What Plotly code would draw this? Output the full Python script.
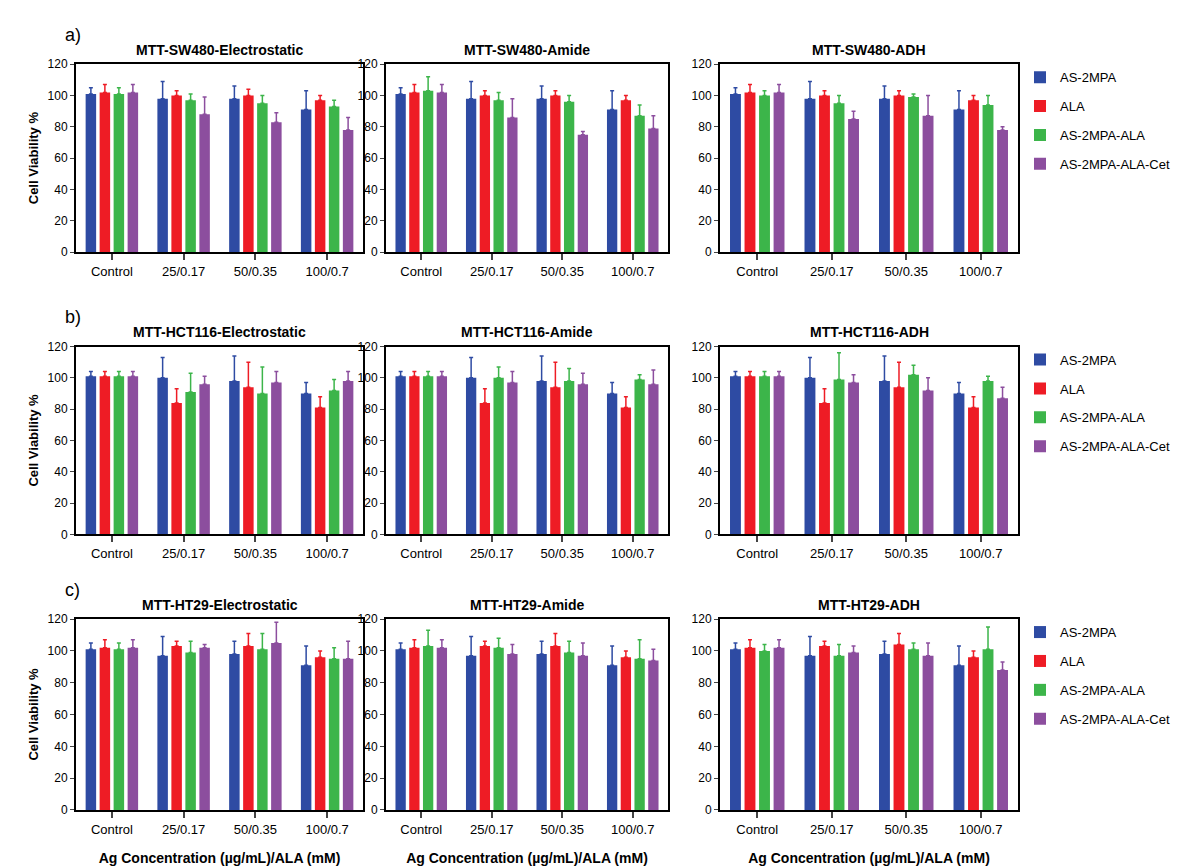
import plotly.graph_objects as go

groups = ["Control", "25/0.17", "50/0.35", "100/0.7"]
series = ["AS-2MPA", "ALA", "AS-2MPA-ALA", "AS-2MPA-ALA-Cet"]
colors = ["#2E4BA3", "#EE1C25", "#3CB54A", "#8C4E9E"]

titles = [
    ["MTT-SW480-Electrostatic", "MTT-SW480-Amide", "MTT-SW480-ADH"],
    ["MTT-HCT116-Electrostatic", "MTT-HCT116-Amide", "MTT-HCT116-ADH"],
    ["MTT-HT29-Electrostatic", "MTT-HT29-Amide", "MTT-HT29-ADH"],
]

# mean values per panel: [AS-2MPA, ALA, AS-2MPA-ALA, Cet], each over groups
means = [
    [
        [[101, 98, 98, 91], [102, 100, 100, 97], [101, 97, 95, 93], [102, 88, 83, 78]],
        [[101, 98, 98, 91], [102, 100, 100, 97], [103, 97, 96, 87], [102, 86, 75, 79]],
        [[101, 98, 98, 91], [102, 100, 100, 97], [100, 95, 99, 94], [102, 85, 87, 78]],
    ],
    [
        [[101, 100, 98, 90], [101, 84, 94, 81], [101, 91, 90, 92], [101, 96, 97, 98]],
        [[101, 100, 98, 90], [101, 84, 94, 81], [101, 100, 98, 99], [101, 97, 96, 96]],
        [[101, 100, 98, 90], [101, 84, 94, 81], [101, 99, 102, 98], [101, 97, 92, 87]],
    ],
    [
        [[101, 97, 98, 91], [102, 103, 103, 96], [101, 99, 101, 95], [102, 102, 105, 95]],
        [[101, 97, 98, 91], [102, 103, 103, 96], [103, 102, 99, 95], [102, 98, 97, 94]],
        [[101, 97, 98, 91], [102, 103, 104, 96], [100, 97, 101, 101], [102, 99, 97, 88]],
    ],
]
# top of error bar per panel
tops = [
    [
        [[105, 109, 106, 103], [107, 103, 104, 100], [105, 101, 100, 97], [107, 99, 89, 86]],
        [[105, 109, 106, 103], [107, 103, 103, 100], [112, 102, 100, 94], [107, 98, 77, 87]],
        [[105, 109, 106, 103], [107, 103, 103, 100], [103, 100, 101, 100], [107, 90, 100, 80]],
    ],
    [
        [[104, 113, 114, 97], [104, 93, 110, 88], [104, 103, 107, 99], [104, 101, 104, 104]],
        [[104, 113, 114, 97], [104, 93, 110, 88], [104, 107, 106, 102], [104, 104, 103, 105]],
        [[104, 113, 114, 97], [104, 93, 110, 88], [104, 116, 108, 101], [104, 102, 100, 94]],
    ],
    [
        [[105, 109, 106, 103], [107, 106, 111, 100], [105, 106, 111, 102], [107, 104, 118, 106]],
        [[105, 109, 106, 103], [107, 106, 111, 100], [113, 108, 106, 107], [107, 104, 105, 101]],
        [[105, 109, 106, 103], [107, 106, 111, 100], [104, 104, 105, 115], [107, 103, 105, 93]],
    ],
]

W, H = 1186, 866
col_px = [(68, 355), (378, 660), (712, 1010)]
row_px = [(50, 241), (337, 528), (614, 808)]

fig = go.Figure()
ax = 0
for r in range(3):
    leg = "legend" if r == 0 else f"legend{r+1}"
    for c in range(3):
        ax += 1
        xa = "x" if ax == 1 else f"x{ax}"
        ya = "y" if ax == 1 else f"y{ax}"
        for s in range(4):
            m = means[r][c][s]
            e = [t - v for t, v in zip(tops[r][c][s], m)]
            fig.add_trace(go.Bar(
                x=groups, y=m, name=series[s], marker_color=colors[s],
                marker_line_width=0, legendgroup=f"{r}-{s}",
                error_y=dict(type="data", array=e, arrayminus=[0] * 4, symmetric=False,
                             color=colors[s], thickness=1.5, width=2),
                xaxis=xa, yaxis=ya, legend=leg, showlegend=(c == 0),
            ))
        x0, x1 = col_px[c]
        y0, y1 = row_px[r]
        xd = [x0 / W, x1 / W]
        yd = [1 - y1 / H, 1 - y0 / H]
        sfx = "" if ax == 1 else str(ax)
        fig.update_layout(**{
            "xaxis" + sfx: dict(domain=xd, anchor=ya, showline=True, linecolor="black", linewidth=2,
                                mirror=True, ticks="outside", ticklen=6, tickwidth=1.5,
                                tickfont=dict(size=13, family="Liberation Sans Narrow, Arial", color="black"),
                                title=dict(text="<b>Ag Concentration (µg/mL)/ALA (mM)</b>" if r == 2 else "",
                                           font=dict(size=14, family="Liberation Sans Narrow, Arial", color="black"),
                                           standoff=18)),
            "yaxis" + sfx: dict(domain=yd, anchor=xa, range=[0, 120], dtick=20, showline=True,
                                linecolor="black", linewidth=2, mirror=True, ticks="outside",
                                ticklen=4, showgrid=False, zeroline=False,
                                tickfont=dict(size=12, color="black"),
                                title=dict(text="<b>Cell Viability %</b>" if c == 0 else "",
                                           font=dict(size=13, color="black"), standoff=6)),
        })
        fig.add_annotation(text=f"<b>{titles[r][c]}</b>", x=(xd[0] + xd[1]) / 2, y=yd[1] + 0.005,
                           xref="paper", yref="paper", xanchor="center", yanchor="bottom",
                           showarrow=False, font=dict(size=14, family="Liberation Sans Narrow, Arial", color="black"))
    fig.add_annotation(text=["a)", "b)", "c)"][r], x=55 / W, y=1 - (row_px[r][0] - 30) / H,
                       xref="paper", yref="paper", xanchor="left", yanchor="middle",
                       showarrow=False, font=dict(size=18, color="black"))
    fig.update_layout(**{leg: dict(x=1012 / W, y=1 - (row_px[r][0] - 2) / H, xanchor="left",
                                   yanchor="top", font=dict(size=13, color="black"),
                                   tracegroupgap=9, itemwidth=30, bgcolor="rgba(0,0,0,0)")})

fig.update_layout(width=W, height=H, margin=dict(l=0, r=0, t=0, b=0),
                  barmode="group", bargap=0.22, bargroupgap=0.25,
                  plot_bgcolor="white", paper_bgcolor="white",
                  font=dict(family="Liberation Sans, Arial", color="black"))
fig.write_html("out.html")
